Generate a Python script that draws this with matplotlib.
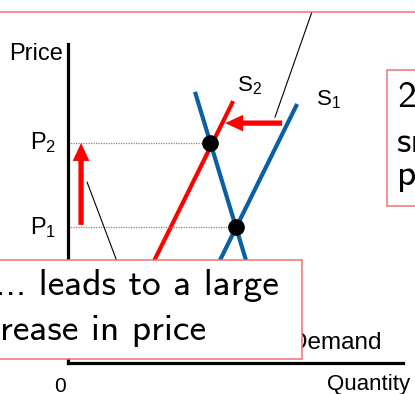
import matplotlib
matplotlib.use("Agg")
import matplotlib.pyplot as plt
from matplotlib.patches import Rectangle, FancyArrowPatch

plt.rcParams["font.family"] = ["Liberation Sans", "DejaVu Sans"]

# curve end points (quantity, price) in chart units
demand_q = [3.79, 5.55]
demand_p = [8.50, 2.40]
supply1_q = [6.84, 4.15]
supply1_p = [8.12, 2.40]
supply2_q = [4.93, 2.38]
supply2_p = [8.21, 2.80]

# equilibria
eq_q = [4.24, 5.01]
eq_p = [6.90, 4.26]
price_labels = ["$\\mathregular{P_2}$", "$\\mathregular{P_1}$"]

# shift arrows (start, end)
supply_shift_q = [6.39, 4.69]
supply_shift_p = [7.52, 7.52]
price_shift_q = [0.39, 0.39]
price_shift_p = [4.33, 6.90]

# callout pointer lines
pointer_top_q = [7.28, 6.18]
pointer_top_p = [11.0, 7.71]
pointer_bottom_q = [0.57, 1.60]
pointer_bottom_p = [5.67, 2.80]

BLUE = "#0a5fa5"
RED = "#ff0000"
BOX = "#f07272"

W, H = 415, 394
fig = plt.figure(figsize=(W / 100, H / 100), dpi=100)
ax = fig.add_axes([68 / W, 31 / H, 335 / W, 319 / H])
ax.set_xlim(0, 10)
ax.set_ylim(0, 10)
for side in ["top", "right"]:
    ax.spines[side].set_visible(False)
for side in ["left", "bottom"]:
    ax.spines[side].set_linewidth(2.3)
ax.set_xticks([])
ax.set_yticks([])
ax.patch.set_alpha(0)

ax.plot(demand_q, demand_p, color=BLUE, lw=3, solid_capstyle="butt")
ax.plot(supply1_q, supply1_p, color=BLUE, lw=3, solid_capstyle="butt")
ax.plot(supply2_q, supply2_p, color=RED, lw=3, solid_capstyle="butt")

for q, p, lab in zip(eq_q, eq_p, price_labels):
    ax.plot([0, q], [p, p], color="#888888", lw=0.9, ls=(0, (1, 1)))
    ax.text(-0.36, p, lab, ha="right", va="center", fontsize=17)
ax.plot(eq_q, eq_p, "o", color="black", ms=11, zorder=5)

ax.plot(pointer_top_q, pointer_top_p, color="black", lw=0.8, clip_on=False)
ax.plot(pointer_bottom_q, pointer_bottom_p, color="black", lw=0.8, clip_on=False)

style = "simple,head_width=12,head_length=13,tail_width=3.8"
for qs, ps in [(supply_shift_q, supply_shift_p), (price_shift_q, price_shift_p)]:
    ax.add_patch(FancyArrowPatch((qs[0], ps[0]), (qs[1], ps[1]), arrowstyle=style,
                                 mutation_scale=1, color=RED, lw=0,
                                 shrinkA=0, shrinkB=0, zorder=4))

ax.text(5.03, 8.33, "$\\mathregular{S_2}$", fontsize=16, ha="left", va="bottom")
ax.text(7.40, 7.90, "$\\mathregular{S_1}$", fontsize=16, ha="left", va="bottom")
ax.text(6.62, 0.45, "Demand", fontsize=17.5, ha="left", va="baseline")

fig.text(9 / W, 1 - 60 / H, "Price", fontsize=17, ha="left", va="baseline")
fig.text(60 / W, 1 - 392 / H, "0", fontsize=15, ha="center", va="baseline")
fig.text(327 / W, 1 - 390 / H, "Quantity", fontsize=16, ha="left", va="baseline")

# callout boxes (cropped by the figure edge)
boxes = [(-0.05, 1 - 12 / H, 1.1, 0.3),
         (387 / W, 1 - 206 / H, 0.2, 136 / H),
         (-0.05, 1 - 359 / H, 302 / W + 0.05, 99 / H)]
for x0, y0, w, h in boxes:
    fig.add_artist(Rectangle((x0, y0), w, h, transform=fig.transFigure,
                             facecolor="white", edgecolor=BOX, lw=1.1, zorder=10))

box_font = ["cmss10", "DejaVu Sans"]
fig.text(279 / W, 1 - 295 / H, "... leads to a large", fontsize=27, family=box_font,
         ha="right", va="baseline", zorder=11)
fig.text(206 / W, 1 - 340 / H, "increase in price", fontsize=27, family=box_font,
         ha="right", va="baseline", zorder=11)
fig.text(397 / W, 1 - 107 / H, "2", fontsize=27, family=box_font,
         ha="left", va="baseline", zorder=11)
fig.text(397 / W, 1 - 152 / H, "small", fontsize=27, family=box_font,
         ha="left", va="baseline", zorder=11)
fig.text(397 / W, 1 - 185 / H, "price", fontsize=27, family=box_font,
         ha="left", va="baseline", zorder=11)

fig.savefig("out.png", dpi=100)
